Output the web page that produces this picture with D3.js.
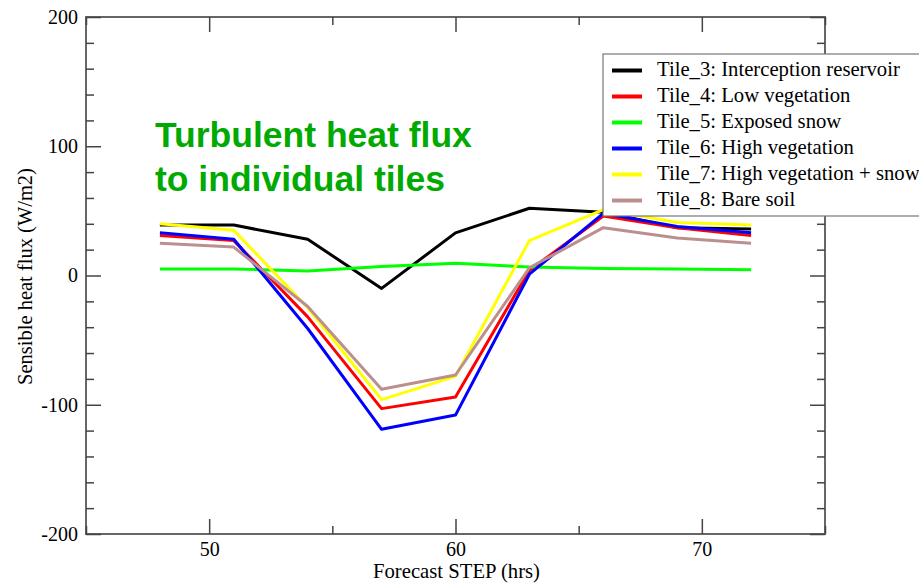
<!DOCTYPE html>
<meta charset="utf-8">
<style>
body { margin: 0; background: #fff; }
svg text { font-family: "Liberation Serif", "Times New Roman", Times, serif; }
.tick text { font-size: 20px; fill: #000; }
.legendLabel { font-size: 20.7px; }
svg text.note { font-family: "Liberation Sans", Arial, Helvetica, sans-serif; font-weight: bold; font-size: 35.5px; fill: #00aa00; }
</style>
<body>
<script src="https://d3js.org/d3.v7.min.js"></script>
<script>
// forecast steps (hrs)
let steps = [48, 51, 54, 57, 60, 63, 66, 69, 72];

let tileNames = ["Tile_3: Interception reservoir", "Tile_4: Low vegetation", "Tile_5: Exposed snow",
                 "Tile_6: High vegetation", "Tile_7: High vegetation + snow", "Tile_8: Bare soil"];
let tileColors = ["#000000", "#ff0000", "#00ff00", "#0000ff", "#ffff00", "#bc8f8f"];

// sensible heat flux (W/m2)
let tile3 = [39, 39, 28, -10, 33, 52, 49, 37, 36];
let tile4 = [31, 27, -32, -103, -94, 4, 46, 37, 31];
let tile5 = [5, 5, 3.5, 7, 9.5, 6.5, 5.5, 5, 4.5];
let tile6 = [33, 28, -41, -119, -108, 1, 48, 38, 33];
let tile7 = [40, 35, -25, -96, -78, 27, 51, 41, 39];
let tile8 = [25, 22, -24, -88, -77, 6, 37, 29, 25];

let series = [tile3, tile4, tile5, tile6, tile7, tile8];

let xMajor = [50, 60, 70], xMinor = [45, 55, 65, 75];
let yMajor = [-200, -100, 0, 100, 200];
let yMinor = d3.range(-200, 201, 20).filter(v => v % 100 != 0);

let width = 919, height = 584,
    pLeft = 86, pRight = 825, pTop = 17, pBottom = 534;

let serif = '"Liberation Serif", "Times New Roman", Times, serif';

let svg = d3.select("body").append("svg")
    .attr("width", width)
    .attr("height", height)
    .attr("font-family", serif);

let x = d3.scaleLinear().domain([45, 75]).range([pLeft, pRight]),
    y = d3.scaleLinear().domain([-200, 200]).range([pBottom, pTop]);

// frame
svg.append("rect")
    .attr("x", pLeft).attr("y", pTop)
    .attr("width", pRight - pLeft).attr("height", pBottom - pTop)
    .attr("fill", "none").attr("stroke", "#666").attr("stroke-width", 2);

function styleAxis(g) {
    g.attr("font-family", serif).attr("font-size", 20);
    g.select(".domain").remove();
    g.selectAll(".tick line").attr("stroke", "#444").attr("stroke-width", 1.5);
}

// bottom axis with labels, ticks pointing inward
svg.append("g").attr("transform", `translate(0,${pBottom})`)
    .call(d3.axisBottom(x).tickValues(xMajor).tickSize(-15).tickFormat(d3.format("d")))
    .call(styleAxis)
    .selectAll("text").attr("y", 22).attr("dy", null);
svg.append("g").attr("transform", `translate(0,${pBottom})`)
    .call(d3.axisBottom(x).tickValues(xMinor).tickSize(-8).tickFormat(""))
    .call(styleAxis);
// top axis ticks
svg.append("g").attr("transform", `translate(0,${pTop})`)
    .call(d3.axisTop(x).tickValues(xMajor).tickSize(-15).tickFormat(""))
    .call(styleAxis);
svg.append("g").attr("transform", `translate(0,${pTop})`)
    .call(d3.axisTop(x).tickValues(xMinor).tickSize(-8).tickFormat(""))
    .call(styleAxis);

// left axis
svg.append("g").attr("transform", `translate(${pLeft},0)`)
    .call(d3.axisLeft(y).tickValues(yMajor).tickSize(-15).tickPadding(8).tickFormat(d3.format("d")))
    .call(styleAxis)
    .selectAll("text").text(d => d < 0 ? "-" + Math.abs(d) : d);
svg.append("g").attr("transform", `translate(${pLeft},0)`)
    .call(d3.axisLeft(y).tickValues(yMinor).tickSize(-8).tickFormat(""))
    .call(styleAxis);
// right axis ticks
svg.append("g").attr("transform", `translate(${pRight},0)`)
    .call(d3.axisRight(y).tickValues(yMajor).tickSize(-15).tickFormat(""))
    .call(styleAxis);
svg.append("g").attr("transform", `translate(${pRight},0)`)
    .call(d3.axisRight(y).tickValues(yMinor).tickSize(-8).tickFormat(""))
    .call(styleAxis);

// axis titles
svg.append("text")
    .attr("x", (pLeft + pRight) / 2 + 1).attr("y", 578)
    .attr("text-anchor", "middle")
    .style("font-size", "20.7px")
    .text("Forecast STEP (hrs)");

svg.append("text")
    .attr("transform", `translate(32,${(pTop + pBottom) / 2 + 1}) rotate(-90)`)
    .attr("text-anchor", "middle")
    .style("font-size", "20.5px")
    .text("Sensible heat flux (W/m2)");

// lines
let line = d3.line()
    .x((d, i) => x(steps[i]))
    .y(d => y(d));

svg.append("g")
    .selectAll("path")
    .data(series)
    .join("path")
        .attr("fill", "none")
        .attr("stroke", (d, i) => tileColors[i])
        .attr("stroke-width", 3)
        .attr("stroke-linejoin", "round")
        .attr("d", line);

// annotation
svg.append("text").attr("class", "note").attr("x", 155).attr("y", 147).text("Turbulent heat flux");
svg.append("text").attr("class", "note").attr("x", 155).attr("y", 191).text("to individual tiles");

// legend
let legend_g = svg.append("g").attr("transform", "translate(603,54)");
legend_g.append("rect")
    .attr("width", 330).attr("height", 162)
    .attr("fill", "#fff").attr("stroke", "#777").attr("stroke-width", 1.2);

let items = legend_g.selectAll("g")
    .data(tileNames)
    .join("g")
        .attr("transform", (d, i) => `translate(0,${16.5 + i * 26})`);

items.append("line")
    .attr("x1", 9).attr("x2", 39)
    .attr("stroke", (d, i) => tileColors[i])
    .attr("stroke-width", 4);

items.append("text")
    .attr("class", "legendLabel")
    .attr("x", 54)
    .attr("dy", "0.25em")
    .text(d => d);
</script>
</body>
